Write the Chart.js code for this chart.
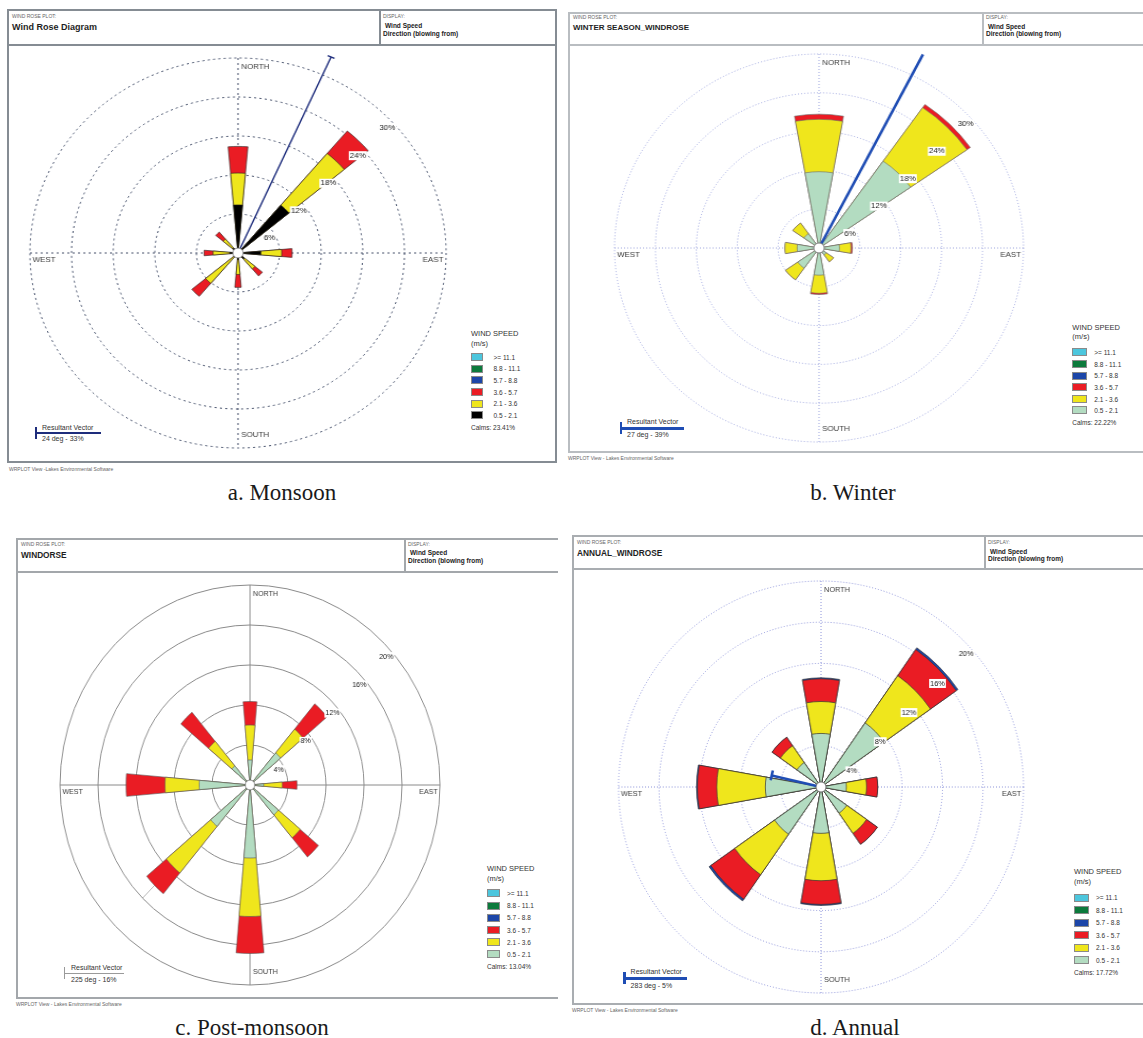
<!DOCTYPE html>
<html>
<head>
<meta charset="utf-8">
<script src="https://cdn.jsdelivr.net/npm/chart.js@4.4.1/dist/chart.umd.min.js"></script>
<style>
  html, body { margin: 0; padding: 0; background: #fff; }
  body { width: 1143px; height: 1038px; position: relative; overflow: hidden;
         font-family: "Liberation Sans", Arial, sans-serif; color: #222; }
  .frame { position: absolute; box-sizing: border-box; border: 2px solid #8f959a; }
  .head { position: absolute; left: 0; right: 0; top: 0; box-sizing: border-box; border-bottom: 2px solid #8f959a; }
  .vdiv { position: absolute; top: 0; bottom: 0; border-left: 2px solid #8f959a; }
  .t { position: absolute; white-space: nowrap; }
  .tiny { font-size: 5px; line-height: 5px; color: #666; }
  .title { font-size: 9px; line-height: 9px; font-weight: bold; color: #1e1e1e; }
  .disp { font-size: 6.5px; line-height: 7px; color: #222; font-weight: bold; }
  .rose { position: absolute; transform-origin: 50% 50%; }
  .lg { font-size: 6.5px; line-height: 7px; color: #333; }
  .lgt { font-size: 7.5px; line-height: 8px; color: #333; }
  .sw { position: absolute; box-sizing: border-box; border: 1px solid #8a8a8a; }
  .bar { position: absolute; }
  .cap { position: absolute; white-space: nowrap; font-family: "Liberation Serif", "DejaVu Serif", serif;
         font-size: 23px; line-height: 23px; color: #1a1a1a; transform: translateX(-50%); }
</style>
</head>
<body>
<script>
// Wind directions (blowing from) and speed classes in m/s
const directions = ['N', 'NE', 'E', 'SE', 'S', 'SW', 'W', 'NW'];
const speedClasses = ['0.5 - 2.1', '2.1 - 3.6', '3.6 - 5.7', '5.7 - 8.8', '8.8 - 11.1', '>= 11.1'];

// Frequency (%) per direction N..NW, one array per speed class
const monsoon_0_5_2_1 = [7.4, 9.6, 3.3, 1.2, 1.0, 0.8, 1.2, 1.0];
const monsoon_2_1_3_6 = [4.9, 10.4, 3.0, 2.0, 2.3, 5.3, 2.4, 1.8];
const monsoon_3_6_5_7 = [4.1, 4.5, 1.5, 1.4, 2.0, 2.6, 1.3, 1.4];

const winter_0_5_2_1 = [11.8, 16.4, 3.0, 1.3, 4.2, 3.8, 3.2, 2.7];
const winter_2_1_3_6 = [8.1, 10.1, 1.7, 1.3, 2.8, 2.2, 1.8, 2.0];
const winter_3_6_5_7 = [0.8, 0.6, 0.2, 0.0, 0.2, 0.0, 0.0, 0.0];

const postMonsoon_0_5_2_1 = [2.5, 4.2, 1.45, 3.9, 7.3, 5.4, 5.35, 2.5];
const postMonsoon_2_1_3_6 = [3.5, 3.1, 1.95, 3.0, 5.85, 6.1, 3.6, 3.2];
const postMonsoon_3_6_5_7 = [2.35, 3.3, 1.55, 2.5, 3.7, 2.7, 4.1, 3.8];

const annual_0_5_2_1 = [5.2, 7.6, 2.5, 3.1, 4.5, 5.6, 5.5, 2.9];
const annual_2_1_3_6 = [3.1, 5.6, 2.0, 2.4, 4.6, 4.8, 4.8, 2.0];
const annual_3_6_5_7 = [2.2, 3.1, 1.1, 1.3, 2.3, 2.9, 1.9, 1.0];
const annual_5_7_8_8 = [0.1, 0.2, 0.0, 0.0, 0.1, 0.2, 0.1, 0.0];

// Calms (%), resultant vector direction (deg) and magnitude (%)
const calms = [23.41, 22.22, 13.04, 17.72];
const vectorDirection = [24, 27, 225, 283];
const vectorPercent = [33, 39, 16, 5];

// Radial ring spacing and outer ring per plot (%)
const ringStep = [6, 6, 4, 4];
const ringMax = [30, 30, 20, 20];

const plotTitles = ['Wind Rose Diagram', 'WINTER SEASON_WINDROSE', 'WINDORSE', 'ANNUAL_WINDROSE'];
const captions = ['a. Monsoon', 'b. Winter', 'c. Post-monsoon', 'd. Annual'];
const compassLabels = ['NORTH', 'SOUTH', 'WEST', 'EAST'];

const seriesByPlot = [
  [monsoon_0_5_2_1, monsoon_2_1_3_6, monsoon_3_6_5_7],
  [winter_0_5_2_1, winter_2_1_3_6, winter_3_6_5_7],
  [postMonsoon_0_5_2_1, postMonsoon_2_1_3_6, postMonsoon_3_6_5_7],
  [annual_0_5_2_1, annual_2_1_3_6, annual_3_6_5_7, annual_5_7_8_8]
];

// Speed class colours (lowest class first)
const classColors = ['#b3dcc1', '#efe61c', '#ea1c24', '#1c46a8', '#0c7a3c', '#4cc6dd'];
const monsoonLowColor = '#000000';

// Page geometry and styling for each plot
const layouts = [
  { frame: [7, 9, 550, 454], headH: 35, divX: 370, smallY: 5.3, titleY: 16.7, titleSize: 9, wsY: 14.7, dirY: 22.7,
    center: [238.3, 252.8], R: 195, sx: 1.067, petal: 10,
    axis: { color: '#46516b', width: 1, dash: [2, 3] }, petalBorder: ['#222', 0.6],
    vec: { color: '#1e2d7c', width: 1.4, tip: 7, under: false },
    legend: { x: 471, titleY: 334, unitY: 344, rows: [357, 368.7, 380.3, 392, 403.5, 415.3], sw: [12, 8], labelX: 493.5, calmY: 427.7 },
    vl: { x: 35, y: 433, len: 66, width: 2, textX: 42, t1Y: 427.3, t2Y: 438.7 },
    foot: [9, 469], foottext: 'WRPLOT View -Lakes Environmental Software', cap: [282, 492], frameColor: '#858c93' },
  { frame: [568, 12, 600, 441], headH: 32, divX: 412, smallY: 3.5, titleY: 14, titleSize: 8, wsY: 12, dirY: 19.7,
    center: [819, 248.2], R: 194, sx: 1.054, petal: 20,
    axis: { color: '#9ea6de', width: 1, dash: [1, 2] }, petalBorder: ['#6a6a6a', 0.6],
    vec: { color: '#1f4db4', width: 2.6, tip: 0, under: false },
    legend: { x: 1072.3, titleY: 328.3, unitY: 336.7, rows: [352.3, 364, 375.7, 387.3, 399, 410], sw: [15, 8], labelX: 1094.3, calmY: 422.7 },
    vl: { x: 619.5, y: 428.3, len: 64, width: 2.6, textX: 627, t1Y: 421.7, t2Y: 434 },
    foot: [568, 458], foottext: 'WRPLOT View - Lakes Environmental Software', cap: [853, 492], frameColor: '#b9bdc1' },
  { frame: [16, 538, 542, 461], headH: 33, divX: 386, smallY: 4.7, titleY: 15.3, titleSize: 8.3, wsY: 12.7, dirY: 20.7,
    center: [250, 785], R: 200, sx: 0.95, petal: 10, openRight: true,
    axis: { color: '#8a8a8a', width: 1, dash: [] }, petalBorder: ['#555', 0.6],
    vec: { color: '#b5b5b5', width: 1, tip: 0, under: true },
    legend: { x: 487, titleY: 869, unitY: 879, rows: [893, 905.7, 917.7, 930, 942.3, 954.3], sw: [13, 8], labelX: 507, calmY: 966 },
    vl: { x: 64, y: 973, len: 60, width: 1, textX: 71, t1Y: 967, t2Y: 979, color: '#9a9a9a' },
    foot: [16, 1004], foottext: 'WRPLOT View - Lakes Environmental Software', cap: [252, 1027], frameColor: '#a3a7ab' },
  { frame: [572, 535, 600, 470], headH: 33, divX: 410, smallY: 5, titleY: 15.7, titleSize: 8.3, wsY: 14, dirY: 21.7,
    center: [820.5, 787], R: 206, sx: 0.983, petal: 20,
    axis: { color: '#8990d8', width: 1, dash: [1, 2] }, petalBorder: ['#333', 0.7],
    vec: { color: '#1f4db4', width: 2.6, tip: 10, under: false },
    legend: { x: 1074, titleY: 872, unitY: 882, rows: [897.7, 910.3, 922.7, 935.3, 947.7, 960], sw: [15, 8], labelX: 1096, calmY: 972.7 },
    vl: { x: 623, y: 978, len: 64, width: 3, textX: 630.6, t1Y: 971.7, t2Y: 985 },
    foot: [572, 1010], foottext: 'WRPLOT View - Lakes Environmental Software', cap: [855, 1027], frameColor: '#a9adb1' }
];

function add(parent, cls, css, text) {
  const d = document.createElement('div');
  if (cls) d.className = cls;
  Object.assign(d.style, css || {});
  if (text !== undefined) d.textContent = text;
  parent.appendChild(d);
  return d;
}
const px = v => v + 'px';

function vectorPoint(scale, deg, pct) {
  const r = scale.getDistanceFromCenterForValue(pct);
  const a = deg * Math.PI / 180;
  return { x: scale.xCenter + r * Math.sin(a), y: scale.yCenter - r * Math.cos(a), r };
}

function drawVector(chart, o) {
  const s = chart.scales.r, ctx = chart.ctx;
  const tip = vectorPoint(s, o.vecDir, o.vecPct);
  const limit = s.drawingArea * 1.12;
  const a = o.vecDir * Math.PI / 180;
  ctx.save();
  ctx.beginPath();
  ctx.arc(s.xCenter, s.yCenter, limit, 0, Math.PI * 2);
  ctx.clip();
  ctx.strokeStyle = o.vec.color;
  ctx.lineWidth = o.vec.width;
  ctx.lineCap = 'butt';
  ctx.beginPath();
  ctx.moveTo(s.xCenter, s.yCenter);
  ctx.lineTo(tip.x, tip.y);
  ctx.stroke();
  if (o.vec.tip && tip.r <= limit) {
    const h = o.vec.tip / 2;
    ctx.beginPath();
    ctx.moveTo(tip.x - h * Math.cos(a), tip.y - h * Math.sin(a));
    ctx.lineTo(tip.x + h * Math.cos(a), tip.y + h * Math.sin(a));
    ctx.stroke();
  }
  ctx.restore();
}

// Compass axes, centre hub, ring labels, compass names and resultant vector
const roseDecor = {
  id: 'roseDecor',
  beforeDatasetsDraw(chart, args, o) {
    const s = chart.scales.r, ctx = chart.ctx;
    const cx = s.xCenter, cy = s.yCenter, R = s.drawingArea;
    ctx.save();
    ctx.strokeStyle = o.axis.color;
    ctx.lineWidth = o.axis.width;
    ctx.setLineDash(o.axis.dash);
    ctx.beginPath();
    ctx.moveTo(cx, cy - R); ctx.lineTo(cx, cy + R);
    ctx.moveTo(cx - R, cy); ctx.lineTo(cx + R, cy);
    ctx.stroke();
    ctx.restore();
    if (o.vec.under) drawVector(chart, o);
  },
  afterDatasetsDraw(chart, args, o) {
    const s = chart.scales.r, ctx = chart.ctx;
    const cx = s.xCenter, cy = s.yCenter, R = s.drawingArea;
    if (!o.vec.under) drawVector(chart, o);
    ctx.save();
    // centre hub
    ctx.beginPath();
    ctx.arc(cx, cy, 5, 0, Math.PI * 2);
    ctx.fillStyle = '#fff';
    ctx.fill();
    ctx.lineWidth = 0.8;
    ctx.strokeStyle = '#666';
    ctx.stroke();
    // ring labels
    ctx.font = '7.5px "Liberation Sans", Arial, sans-serif';
    ctx.textAlign = 'center';
    ctx.textBaseline = 'middle';
    s.ticks.forEach(t => {
      if (t.value <= 0) return;
      const r = s.getDistanceFromCenterForValue(t.value);
      const x = cx + r * Math.SQRT1_2 + 2;
      const y = cy - r * Math.SQRT1_2 + 13;
      const label = t.value + '%';
      const w = ctx.measureText(label).width;
      ctx.fillStyle = '#fff';
      ctx.fillRect(x - w / 2 - 1, y - 4.5, w + 2, 9);
      ctx.fillStyle = '#222';
      ctx.fillText(label, x, y);
    });
    // compass names
    ctx.fillStyle = '#3a3a3a';
    ctx.textAlign = 'left';
    ctx.fillText(compassLabels[0], cx + 3, cy - R + 8.5);
    ctx.fillText(compassLabels[1], cx + 3, cy + R - 13.5);
    ctx.fillText(compassLabels[2], cx - R + 2.5, cy + 6.5);
    ctx.textAlign = 'right';
    ctx.fillText(compassLabels[3], cx + R - 2.5, cy + 6.5);
    ctx.restore();
  }
};

function buildPlot(i) {
  const L = layouts[i];
  const body = document.body;
  const lowColor = i === 0 ? monsoonLowColor : classColors[0];
  const colorsFor = k => (k === 0 ? lowColor : classColors[k]);

  // frame and header
  const [fx, fy, fw, fh] = L.frame;
  const fr = add(body, 'frame', { left: px(fx), top: px(fy), width: px(fw), height: px(fh), borderColor: L.frameColor });
  if (L.openRight) fr.style.borderRightWidth = '0';
  const hd = add(fr, 'head', { height: px(L.headH), borderBottomColor: L.frameColor });
  add(hd, 'vdiv', { left: px(L.divX), borderLeftColor: L.frameColor });
  add(hd, 't tiny', { left: '3px', top: px(L.smallY - 2.5) }, 'WIND ROSE PLOT:');
  add(hd, 't title', { left: '3px', top: px(L.titleY - L.titleSize / 2), fontSize: px(L.titleSize), lineHeight: px(L.titleSize) }, plotTitles[i]);
  add(hd, 't tiny', { left: px(L.divX + 4), top: px(L.smallY - 2.5) }, 'DISPLAY:');
  add(hd, 't disp', { left: px(L.divX + 6), top: px(L.wsY - 3.5) }, 'Wind Speed');
  add(hd, 't disp', { left: px(L.divX + 4), top: px(L.dirY - 3.5) }, 'Direction (blowing from)');

  add(body, 't tiny', { left: px(L.foot[0]), top: px(L.foot[1] - 2.5) }, L.foottext);
  add(body, 'cap', { left: px(L.cap[0]), top: px(L.cap[1] - 11.5) }, captions[i]);

  // legend
  const g = L.legend;
  add(body, 't lgt', { left: px(g.x), top: px(g.titleY - 4) }, 'WIND SPEED');
  add(body, 't lgt', { left: px(g.x), top: px(g.unitY - 4) }, '(m/s)');
  for (let row = 0; row < 6; row++) {
    const k = 5 - row;
    add(body, 'sw', { left: px(g.x), top: px(g.rows[row] - g.sw[1] / 2), width: px(g.sw[0]), height: px(g.sw[1]), background: colorsFor(k) });
    add(body, 't lg', { left: px(g.labelX), top: px(g.rows[row] - 3.5) }, speedClasses[k]);
  }
  add(body, 't lg', { left: px(g.x), top: px(g.calmY - 3.5) }, 'Calms: ' + calms[i].toFixed(2) + '%');

  // resultant vector key
  const v = L.vl;
  const vc = v.color || L.vec.color;
  add(body, 'bar', { left: px(v.x), top: px(v.y - 6), width: px(v.width), height: '12px', background: vc });
  add(body, 'bar', { left: px(v.x), top: px(v.y - v.width / 2), width: px(v.len), height: px(v.width), background: vc });
  add(body, 't lg', { left: px(v.textX), top: px(v.t1Y - 3.5), fontSize: '7px' }, 'Resultant Vector');
  add(body, 't lg', { left: px(v.textX), top: px(v.t2Y - 3.5), fontSize: '7px' }, vectorDirection[i] + ' deg - ' + vectorPercent[i] + '%');

  // rose canvas
  const pad = 32;
  const S = 2 * (L.R + pad);
  const wrap = add(body, 'rose', { left: px(L.center[0] - S / 2), top: px(L.center[1] - S / 2), width: px(S), height: px(S), transform: 'scaleX(' + L.sx + ')' });
  const cv = document.createElement('canvas');
  cv.width = S; cv.height = S;
  wrap.appendChild(cv);

  // cumulative petals: class k drawn out to the sum of classes 0..k
  const series = seriesByPlot[i];
  const w = L.petal;
  const angles = [];
  const labels = [];
  directions.forEach(d => { angles.push(w, 45 - w); labels.push(d, ''); });
  const running = directions.map(() => 0);
  const datasets = series.map((arr, k) => {
    const data = [];
    arr.forEach((val, j) => { running[j] += val; data.push(+running[j].toFixed(3), 0); });
    return {
      label: speedClasses[k],
      data,
      angle: angles,
      backgroundColor: colorsFor(k),
      borderColor: L.petalBorder[0],
      borderWidth: data.map((val, j) => (j % 2 ? 0 : L.petalBorder[1])),
      borderAlign: 'center'
    };
  });

  new Chart(cv, {
    type: 'polarArea',
    data: { labels, datasets },
    options: {
      responsive: false,
      animation: false,
      devicePixelRatio: 1,
      layout: { padding: pad },
      plugins: {
        legend: { display: false },
        tooltip: { enabled: false },
        roseDecor: { axis: L.axis, vec: L.vec, vecDir: vectorDirection[i], vecPct: vectorPercent[i] }
      },
      scales: {
        r: {
          min: 0,
          max: ringMax[i],
          startAngle: -w / 2,
          ticks: { display: false, stepSize: ringStep[i] },
          grid: { circular: true, color: L.axis.color, lineWidth: 1, borderDash: L.axis.dash },
          border: { dash: L.axis.dash },
          angleLines: { display: false },
          pointLabels: { display: false }
        }
      }
    },
    plugins: [roseDecor]
  });
}

for (let i = 0; i < 4; i++) buildPlot(i);
</script>
</body>
</html>
